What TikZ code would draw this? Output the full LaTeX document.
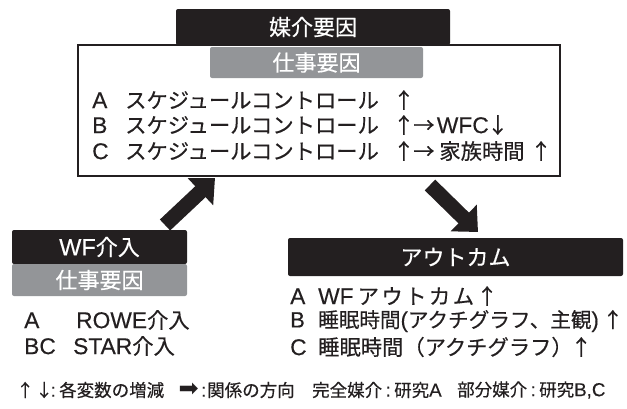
\documentclass[tikz,border=0pt]{standalone}
\usepackage{fontspec}
\setmainfont{Noto Sans CJK JP}[FakeBold=0.4]
\newfontfamily\symfont{DejaVu Sans}
\newfontfamily\latfont{Liberation Sans}[Scale=1.07,FakeBold=0.3]
\usetikzlibrary{arrows.meta}
\definecolor{blk}{RGB}{35,31,32}
\definecolor{gry}{RGB}{147,149,152}
\tikzset{
  headbox/.style={fill=blk, text=white, rounded corners=2pt, inner sep=0pt, font=\fontsize{22}{24}\selectfont},
  subbox/.style={fill=gry, text=white, rounded corners=2pt, inner sep=0pt, font=\fontsize{22}{24}\selectfont},
  frame/.style={draw=blk, line width=1.8pt},
  body/.style={anchor=west, inner sep=0pt, text=blk, font=\fontsize{21.3}{24}\selectfont},
  legend/.style={anchor=west, inner sep=0pt, text=blk, font=\fontsize{17.5}{20}\selectfont},
  bigarrow/.style={draw=blk, line width=15pt, -{Triangle[length=20pt,width=36pt]}}
}
\newcommand{\lat}[1]{{\latfont #1}}
\newcommand{\lab}[2]{\makebox[#1][l]{\latfont #2}}
\newcommand{\up}{\makebox[0pt]{↑}}
\newcommand{\dn}{\makebox[0pt]{↓}}
\newcommand{\ra}{\makebox[0pt]{→}}
\newcommand{\ca}{\makebox[12pt]{\lat{:}}}
\begin{document}
\begin{tikzpicture}[x=1pt,y=-1pt]
\useasboundingbox (0,0) rectangle (627,408);
% top mediator box
\draw[frame] (78,45) rectangle (560,176);
\node[headbox, minimum width=274pt, minimum height=36pt] (med) at (313,27) {媒介要因};
\node[subbox, minimum width=213pt, minimum height=31pt] (medsub) at (316.5,62.5) {仕事要因};
\node[body] (ma) at (92,100) {\lab{33pt}{A}スケジュールコントロール\hspace{25pt}\up};
\node[body] (mb) at (92,125) {\lab{33pt}{B}スケジュールコントロール\hspace{25pt}\up\hspace{20pt}\ra\hspace{13pt}\lat{WFC}\hspace{9pt}\dn};
\node[body] (mc) at (92,151) {\lab{33pt}{C}スケジュールコントロール\hspace{25pt}\up\hspace{20pt}\ra\hspace{15.5pt}家族時間\hspace{16.5pt}\up};
% WF intervention box
\node[headbox, minimum width=175pt, minimum height=34pt] (wf) at (99.5,247) {\lat{WF}介入};
\node[subbox, minimum width=175pt, minimum height=32pt] (wfsub) at (99.5,280) {仕事要因};
\node[body] (wa) at (24,320) {\lab{52pt}{A}\lat{ROWE}介入};
\node[body] (wb) at (24,346) {\lab{49pt}{BC}\lat{STAR}介入};
% outcome box
\node[headbox, minimum width=335pt, minimum height=38pt] (out) at (455.5,257) {アウトカム};
\node[body] (oa) at (290,296) {\lab{28pt}{A}\lat{WF}\hspace{4pt}ア\hspace{2.5pt}ウ\hspace{2.5pt}ト\hspace{2.5pt}カ\hspace{2.5pt}ム\hspace{13pt}\up};
\node[body, font=\fontsize{20.6}{24}\selectfont] (ob) at (290,321) {\lab{28pt}{B}睡眠時間\lat{(}アクチグラフ、主観\lat{)}\hspace{14pt}\up};
\node[body] (oc) at (290,347) {\lab{28pt}{C}睡眠時間（アクチグラフ）\hspace{8.5pt}\up};
% big arrows
\coordinate (l0) at (165,225);
\coordinate (l1) at (215,178);
\coordinate (r0) at (430,185);
\coordinate (r1) at (478,232);
\draw[bigarrow] (l0) -- (l1);
\draw[bigarrow] (r0) -- (r1);
% legend
\node[legend] (leg1) at (22,390) {\makebox[6pt]{↑}\hspace{13pt}\makebox[6pt]{↓}\makebox[12pt]{\lat{:}}各変数の増減\hspace{13pt}\makebox[23pt]{\symfont\fontsize{24}{24}\selectfont ➡}\makebox[7pt]{\lat{:}}関係の方向};
\node[legend] (leg2) at (312,390) {完全媒介\ca 研究\lat{A}};
\node[legend] (leg3) at (457,390) {部分媒介\ca 研究\lat{B,C}};
\end{tikzpicture}
\end{document}
